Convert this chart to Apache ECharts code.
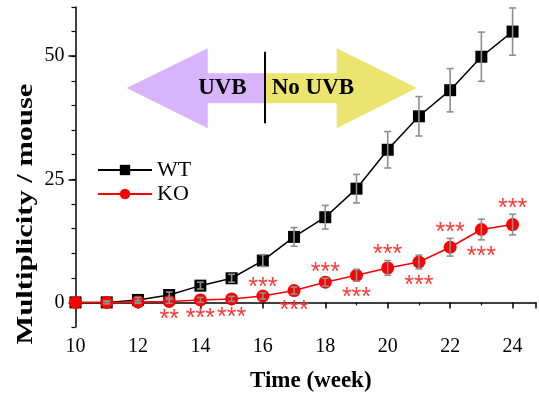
<!DOCTYPE html>
<html><head><meta charset="utf-8">
<script src="https://cdn.jsdelivr.net/npm/echarts@6/dist/echarts.min.js"></script>
<style>html,body{margin:0;padding:0;background:#fff}#c{width:539px;height:398px}</style>
</head><body><div id="c"></div>
<script>
const weeks = [10,11,12,13,14,15,16,17,18,19,20,21,22,23,24];
const wtMean = [0,0,0.5,1.5,3.4,4.9,8.5,13.3,17.3,23.1,31.0,37.8,43.1,49.9,55.0];
const wtErr  = [0,0.3,0.5,0.6,0.7,0.8,1.2,1.9,2.4,2.9,3.7,4.0,4.4,5.0,4.8];
const koMean = [0,0,0.1,0.2,0.5,0.7,1.3,2.4,4.1,5.5,7.0,8.2,11.2,14.8,15.8];
const koErr  = [0,0.2,0.3,0.4,0.5,0.5,0.6,0.7,0.8,1.2,1.5,1.4,1.8,2.1,2.1];
const sigMarks = ['','','','**','***','***','***','***','***','***','***','***','***','***','***'];
const sigSide  = ['','','','below','below','below','above','below','above','below','above','below','above','below','above'];
const yLabelValues = [0,25,50];
const seriesNames = ['WT','KO'];
const yTitle = 'Multiplicity / mouse';

const serif = '"Liberation Serif", "Times New Roman", serif';
const chart = echarts.init(document.getElementById('c'), null, {renderer:'canvas'});

const wtData = weeks.map((w,i)=>[w, wtMean[i], wtErr[i]]);
const koData = weeks.map((w,i)=>[w, koMean[i], koErr[i]]);
const starData = weeks.map((w,i)=>[w, koMean[i], koErr[i], sigSide[i]==='above'?1:(sigSide[i]==='below'?-1:0)]);

function errRender(params, api){
  const x = api.value(0), y = api.value(1), e = api.value(2);
  if (!e) return null;
  const t = api.coord([x, y+e]), b = api.coord([x, y-e]);
  const st = {stroke:'#8f8f8f', lineWidth:1.6};
  return {type:'group', children:[
    {type:'line', shape:{x1:t[0],y1:t[1],x2:b[0],y2:b[1]}, style:st},
    {type:'line', shape:{x1:t[0]-3.5,y1:t[1],x2:t[0]+3.5,y2:t[1]}, style:st},
    {type:'line', shape:{x1:b[0]-3.5,y1:b[1],x2:b[0]+3.5,y2:b[1]}, style:st}
  ]};
}
function starRender(params, api){
  const dir = api.value(3);
  const txt = sigMarks[params.dataIndex];
  if (!dir || !txt) return null;
  const x = api.value(0), y = api.value(1), e = api.value(2);
  const c = api.coord([x, y]);
  const ePx = Math.abs(api.coord([x, y+e])[1] - c[1]);
  const d = 11 + ePx;
  return {type:'text', x:c[0], y:c[1] - dir*d + 6,
    style:{text:txt, fill:'#ff3838', font:'25px "Liberation Sans", Arial, sans-serif',
      align:'center', verticalAlign:'middle'}};
}

const option = {
  animation:false,
  backgroundColor:'#fff',
  grid:{left:75.5, right:0, top:7, bottom:70, containLabel:false},
  legend:{
    data:seriesNames, orient:'vertical', left:92, top:154,
    itemWidth:54, itemHeight:13, itemGap:2,
    textStyle:{fontFamily:serif, fontSize:22, color:'#000'}
  },
  xAxis:{
    type:'value', min:10, max:24.75, interval:2,
    name:'Time (week)', nameLocation:'middle', nameGap:43,
    nameTextStyle:{fontFamily:serif, fontSize:23, fontWeight:'bold', color:'#000', padding:[0,0,0,10]},
    axisLine:{lineStyle:{color:'#000', width:1.5}},
    axisTick:{show:true, length:6, lineStyle:{color:'#000', width:1.5}},
    minorTick:{show:true, splitNumber:2, length:3, lineStyle:{color:'#000', width:1.2}},
    axisLabel:{fontFamily:serif, fontSize:20, color:'#000', margin:10,
      formatter:v => (Number.isInteger(v) ? String(v) : '')},
    splitLine:{show:false}
  },
  yAxis:[{
    type:'value', min:-5, max:60, interval:5,
    axisLine:{show:true, lineStyle:{color:'#000', width:1.5}},
    axisTick:{show:true, length:7, customValues:yLabelValues, lineStyle:{color:'#000', width:1.5}},
    axisLabel:{fontFamily:serif, fontSize:20, color:'#000', margin:11, customValues:yLabelValues},
    splitLine:{show:false}
  },{
    type:'value', min:-5, max:60, interval:5, position:'left',
    axisLine:{show:false}, axisLabel:{show:false},
    axisTick:{show:true, length:4, lineStyle:{color:'#000', width:1.2}},
    splitLine:{show:false}
  }],
  series:[
    {name:'WT', type:'line', data:wtData, symbol:'rect', symbolSize:12,
      itemStyle:{color:'#000'}, lineStyle:{color:'#000', width:1.5}, z:2},
    {name:'KO', type:'line', data:koData, symbol:'circle', symbolSize:13,
      itemStyle:{color:'#ff0000'}, lineStyle:{color:'#ff0000', width:1.5}, z:3},
    {name:'WT err', type:'custom', data:wtData, renderItem:errRender, encode:{x:0,y:1}, z:5, silent:true},
    {name:'KO err', type:'custom', data:koData, renderItem:errRender, encode:{x:0,y:1}, z:5, silent:true},
    {name:'sig', type:'custom', data:starData, renderItem:starRender, encode:{x:0,y:1}, z:6, silent:true}
  ],
  graphic:[
    {type:'polygon', z:1, shape:{points:[[126.7,88],[207.7,48.3],[207.7,73.3],[265,73.3],[265,103.3],[207.7,103.3],[207.7,128.3]]},
      style:{fill:'#d8b4fc'}},
    {type:'polygon', z:1, shape:{points:[[265,73.3],[336.7,73.3],[336.7,48.3],[416.7,88],[336.7,128.3],[336.7,103.3],[265,103.3]]},
      style:{fill:'#ebe46f'}},
    {type:'line', z:2, shape:{x1:265,y1:51.7,x2:265,y2:123.3}, style:{stroke:'#000', lineWidth:2}},
    {type:'text', z:3, x:246.7, y:88, style:{text:'UVB', font:'bold 23px '+serif, fill:'#000', align:'right', verticalAlign:'middle'}},
    {type:'text', z:3, x:271.7, y:88, style:{text:'No UVB', font:'bold 23px '+serif, fill:'#000', align:'left', verticalAlign:'middle'}},
    {type:'text', z:3, x:26, y:214, rotation:Math.PI/2, scaleX:1.27, scaleY:1,
      style:{text:yTitle, font:'bold 24px '+serif, fill:'#000', align:'center', verticalAlign:'middle'}}
  ]
};
chart.setOption(option);
</script>
</body></html>
